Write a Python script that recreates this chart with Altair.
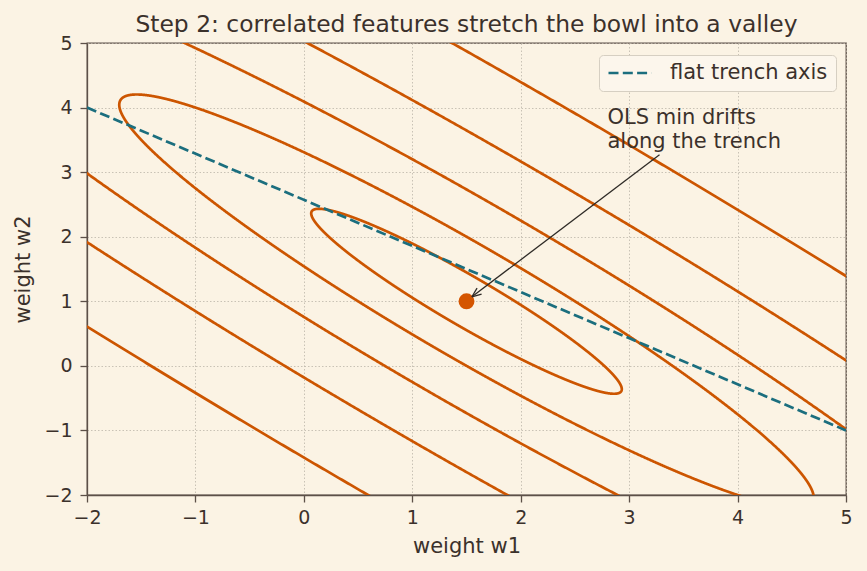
import numpy as np
import pandas as pd
import altair as alt

# ---- data ----
center = [1.5, 1.0]                     # OLS minimum (w1, w2)
hessian = [[1.0, 0.95], [0.95, 1.0]]    # correlated features -> stretched bowl
levels = [0.2, 1.0, 3.0, 7.0, 15.0]     # contour levels of the loss
trench_w1 = [-2.0, 5.0]
trench_w2 = [4.0, -1.0]
annot_text = "OLS min drifts\nalong the trench"
annot_xy = [2.8, 3.4]
arrow_tail = [3.28, 3.27]
arrow_head = [1.55, 1.07]
ticks = [-2, -1, 0, 1, 2, 3, 4, 5]
dom = [-2, 5]

W, H = 759, 452
BG = "#fbf3e4"
TXT = "#3b312b"
AX = "#5c5048"
ORANGE = "#cc5500"
TEAL = "#1b6e7e"
FONT = "DejaVu Sans"

# ---- contour ellipses of the quadratic loss ----
Hm = np.array(hessian)
vals, vecs = np.linalg.eigh(Hm)
t = np.linspace(0, 2 * np.pi, 4001)
rows = []
for L in levels:
    pts = vecs @ (np.sqrt(L / vals)[:, None] * np.vstack([np.cos(t), np.sin(t)]))
    for i in range(len(t)):
        rows.append({"w1": center[0] + pts[0, i], "w2": center[1] + pts[1, i], "level": L, "idx": i})
contours = pd.DataFrame(rows)

trench = pd.DataFrame({"w1": trench_w1, "w2": trench_w2, "series": ["flat trench axis"] * 2})
point = pd.DataFrame({"w1": [center[0]], "w2": [center[1]]})
annot = pd.DataFrame({"w1": [annot_xy[0]], "w2": [annot_xy[1]], "label": [annot_text]})

# arrow shaft + open head
pxx = W / (dom[1] - dom[0])
pxy = H / (dom[1] - dom[0])
dx = (arrow_tail[0] - arrow_head[0]) * pxx
dy = -(arrow_tail[1] - arrow_head[1]) * pxy
n = np.hypot(dx, dy)
ux, uy = dx / n, dy / n
segs = [{"x": arrow_tail[0], "y": arrow_tail[1], "x2": arrow_head[0], "y2": arrow_head[1]}]
for ang in (np.radians(22), -np.radians(22)):
    rx = (ux * np.cos(ang) - uy * np.sin(ang)) * 10
    ry = (ux * np.sin(ang) + uy * np.cos(ang)) * 10
    segs.append({"x": arrow_head[0], "y": arrow_head[1],
                 "x2": arrow_head[0] + rx / pxx, "y2": arrow_head[1] - ry / pxy})
arrow = pd.DataFrame(segs)

xscale = alt.Scale(domain=dom, nice=False, zero=False)
yscale = alt.Scale(domain=dom, nice=False, zero=False)
xaxis = alt.Axis(values=ticks, title="weight w1", format="d", labelFlush=False)
yaxis = alt.Axis(values=ticks, title="weight w2", format="d", labelFlush=False)

base_x = alt.X("w1:Q", scale=xscale, axis=xaxis)
base_y = alt.Y("w2:Q", scale=yscale, axis=yaxis)

c_layer = alt.Chart(contours).mark_line(clip=True, strokeWidth=2.7, color=ORANGE).encode(
    x=base_x, y=base_y, detail="level:N", order="idx:Q")

t_layer = alt.Chart(trench).mark_line(clip=True, strokeWidth=2.7, strokeDash=[10, 4.3]).encode(
    x="w1:Q", y="w2:Q",
    color=alt.Color("series:N", scale=alt.Scale(range=[TEAL]),
                    legend=alt.Legend(title=None, orient="none", legendX=512, legendY=12,
                                      fillColor="#fcf6ec", strokeColor="#d6cfc2", cornerRadius=4,
                                      padding=8, symbolType="stroke", symbolSize=1849,
                                      symbolStrokeWidth=2.7, symbolDash=[10, 4.3],
                                      labelFontSize=21, labelColor=TXT, labelFont=FONT,
                                      labelOffset=17, clipHeight=20)))

p_layer = alt.Chart(point).mark_point(filled=True, size=254, color="#d45500", opacity=1).encode(
    x="w1:Q", y="w2:Q")

a_layer = alt.Chart(arrow).mark_rule(color="#2e2a26", strokeWidth=1.3).encode(
    x="x:Q", y="y:Q", x2="x2:Q", y2="y2:Q")

txt_layer = alt.Chart(annot).mark_text(align="left", baseline="bottom", lineBreak="\n",
                                       lineHeight=24, fontSize=21, font=FONT, color=TXT,
                                       dy=-18).encode(
    x="w1:Q", y="w2:Q", text="label:N")

chart = alt.layer(c_layer, t_layer, p_layer, a_layer, txt_layer).properties(
    width=W, height=H, background=BG,
    title=alt.Title("Step 2: correlated features stretch the bowl into a valley",
                    fontSize=23.4, font=FONT, color=TXT, fontWeight="normal", offset=12,
                    baseline="alphabetic", anchor="middle", frame="group", dy=33),
    autosize=alt.AutoSizeParams(type="none"),
    padding={"left": 87, "top": 43, "right": 21, "bottom": 76},
).configure_view(stroke=AX, strokeWidth=1.3, fill=BG).configure_axis(
    labelFont=FONT, titleFont=FONT, labelFontSize=19, titleFontSize=21, labelColor=TXT,
    titleColor=TXT, titleFontWeight="normal", domainColor=AX, domainWidth=1.3, tickColor=AX,
    tickSize=7, tickWidth=1.3, labelPadding=6, grid=True, gridColor="#bdb5a8", gridDash=[1.5, 2],
    gridWidth=0.8,
).configure_axisX(titlePadding=8).configure_axisY(titlePadding=10, labelPadding=8)

chart.save("out.html", embed_options={"renderer": "svg", "actions": False})
